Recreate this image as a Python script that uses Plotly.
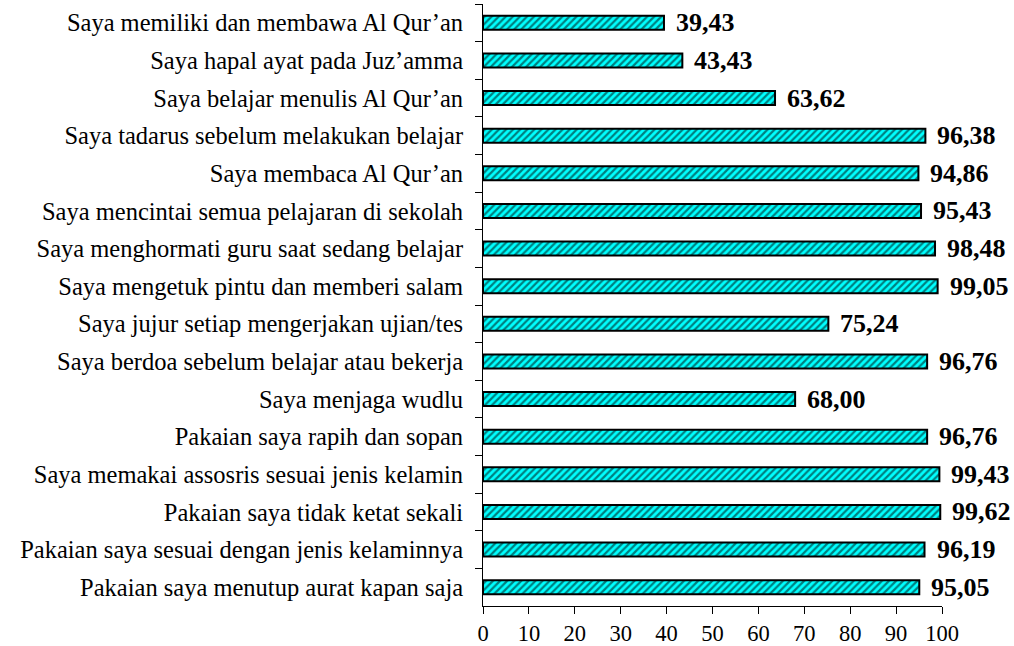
import plotly.graph_objects as go

categories = [
    "Saya memiliki dan membawa Al Qur’an",
    "Saya hapal ayat pada Juz’amma",
    "Saya belajar menulis Al Qur’an",
    "Saya tadarus sebelum melakukan belajar",
    "Saya membaca Al Qur’an",
    "Saya mencintai semua pelajaran di sekolah",
    "Saya menghormati guru saat sedang belajar",
    "Saya mengetuk pintu dan memberi salam",
    "Saya jujur setiap mengerjakan ujian/tes",
    "Saya berdoa sebelum belajar atau bekerja",
    "Saya menjaga wudlu",
    "Pakaian saya rapih dan sopan",
    "Saya memakai assosris sesuai jenis kelamin",
    "Pakaian saya tidak ketat sekali",
    "Pakaian saya sesuai dengan jenis kelaminnya",
    "Pakaian saya menutup aurat kapan saja",
]
values = [39.43, 43.43, 63.62, 96.38, 94.86, 95.43, 98.48, 99.05,
          75.24, 96.76, 68.00, 96.76, 99.43, 99.62, 96.19, 95.05]
labels = [f"{v:.2f}".replace(".", ",") for v in values]
x_ticks = list(range(0, 101, 10))

SERIF = "Liberation Serif, Times New Roman, serif"

fig = go.Figure()
fig.add_trace(go.Bar(
    y=categories,
    x=values,
    orientation="h",
    marker=dict(
        color="#00FFFF",
        line=dict(color="black", width=2),
        pattern=dict(shape="/", fgcolor="black", bgcolor="#00FFFF", size=5, solidity=0.45),
    ),
    hoverinfo="skip",
))

for c, v, t in zip(categories, values, labels):
    fig.add_annotation(
        x=v, y=c, text=t, xref="x", yref="y",
        xanchor="left", yanchor="middle", xshift=10, showarrow=False,
        font=dict(family=SERIF, size=26, color="black", weight="bold"),
    )

fig.update_layout(
    width=1014, height=646,
    margin=dict(l=483, r=72, t=4, b=40, autoexpand=False),
    plot_bgcolor="white", paper_bgcolor="white",
    bargap=0.63,
    showlegend=False,
    font=dict(family=SERIF, color="black"),
)
fig.update_xaxes(
    range=[0, 100], tickvals=x_ticks, ticktext=[str(t) for t in x_ticks],
    showgrid=False, zeroline=False,
    showline=True, linecolor="black", linewidth=1,
    ticks="outside", ticklen=7, tickcolor="black", tickwidth=1,
    tickfont=dict(family=SERIF, size=22.5, color="black"),
    ticklabelstandoff=0, automargin=False,
)
fig.update_yaxes(
    autorange="reversed", categoryorder="array", categoryarray=categories,
    showgrid=False, zeroline=False,
    showline=True, linecolor="black", linewidth=1,
    ticks="outside", ticklen=7, tickcolor="black", tickwidth=1,
    tickson="boundaries",
    tickfont=dict(family=SERIF, size=24.5, color="black"),
    ticklabelstandoff=14, automargin=False,
)

fig.write_html(
    "out.html",
    config={"displayModeBar": False},
    post_script="document.body.style.margin='0';document.body.style.overflow='hidden';",
)
